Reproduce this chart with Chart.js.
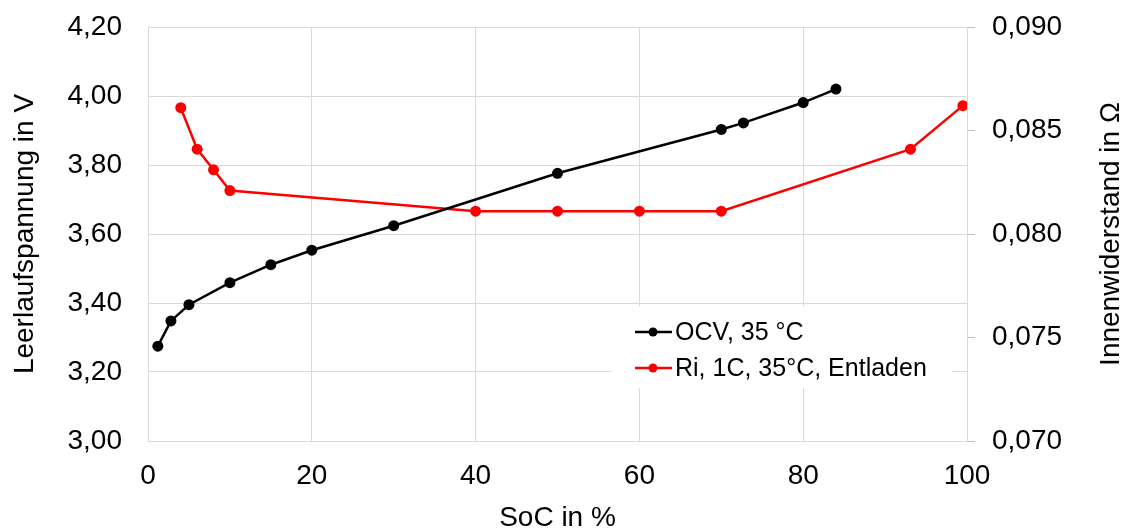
<!DOCTYPE html>
<html>
<head>
<meta charset="utf-8">
<script src="https://cdn.jsdelivr.net/npm/chart.js@4"></script>
<style>
  html, body { margin: 0; padding: 0; background: #fff; }
  #wrap { width: 1124px; height: 529px; }
</style>
</head>
<body>
<div id="wrap"><canvas id="chart" width="1124" height="529"></canvas></div>
<script>
// OCV curve (left axis)
const ocvSoc = [1.2, 2.8, 5, 10, 15, 20, 30, 50, 70, 72.7, 80, 84];
const ocvVoltage = [3.275, 3.348, 3.395, 3.459, 3.511, 3.553, 3.624, 3.776, 3.903, 3.922, 3.981, 4.020];

// internal resistance (right axis)
const riSoc = [4, 6, 8, 10, 40, 50, 60, 70, 93.1, 99.5];
const riOhm = [0.0861, 0.0841, 0.0831, 0.0821, 0.0811, 0.0811, 0.0811, 0.0811, 0.0841, 0.0862];

const seriesLabels = ['OCV, 35 °C', 'Ri, 1C, 35°C, Entladen'];
const xTitle = 'SoC in %';
const yTitle = 'Leerlaufspannung in V';
const y1Title = 'Innenwiderstand in Ω';

const FONT = "'Liberation Sans', Arial, sans-serif";
const gridColor = '#d9d9d9';

function toPoints(xs, ys) {
    return xs.map((x, i) => ({x: x, y: ys[i]}));
}

// fixed axis box size; drop the label padding so the plot can reach the top
function fixWidth(w) {
    return s => {
        s.width = w;
        s.paddingTop = 0;
        s.paddingBottom = 0;
    };
}

// legend box inside the plot + right axis title (reads bottom to top)
const extras = {
    id: 'extras',
    afterDraw(chart) {
        const ctx = chart.ctx;
        const area = chart.chartArea;
        ctx.save();

        ctx.fillStyle = '#fff';
        ctx.fillRect(612, 306, 340, 82);
        ctx.font = '25px ' + FONT;
        ctx.textBaseline = 'middle';
        ctx.textAlign = 'left';
        chart.data.datasets.forEach((ds, i) => {
            const y = 332 + i * 36;
            ctx.strokeStyle = ds.borderColor;
            ctx.lineWidth = 2.5;
            ctx.beginPath();
            ctx.moveTo(635, y);
            ctx.lineTo(672, y);
            ctx.stroke();
            ctx.fillStyle = ds.backgroundColor;
            ctx.beginPath();
            ctx.arc(653, y, 4.5, 0, Math.PI * 2);
            ctx.fill();
            ctx.fillStyle = '#000';
            ctx.fillText(ds.label, 675, y + 1);
        });

        ctx.font = '28px ' + FONT;
        ctx.fillStyle = '#000';
        ctx.textAlign = 'center';
        ctx.translate(1111, (area.top + area.bottom) / 2);
        ctx.rotate(-Math.PI / 2);
        ctx.fillText(y1Title, 0, 0);
        ctx.restore();
    }
};

const chart = new Chart(document.getElementById('chart').getContext('2d'), {
    type: 'scatter',
    data: {
        datasets: [{
            label: seriesLabels[0],
            data: toPoints(ocvSoc, ocvVoltage),
            yAxisID: 'y',
            showLine: true,
            borderColor: '#000000',
            backgroundColor: '#000000',
            borderWidth: 2.5,
            pointRadius: 5.5,
            pointBorderWidth: 0,
            pointHoverRadius: 5.5
        }, {
            label: seriesLabels[1],
            data: toPoints(riSoc, riOhm),
            yAxisID: 'y1',
            showLine: true,
            borderColor: '#ff0000',
            backgroundColor: '#ff0000',
            borderWidth: 2.5,
            pointRadius: 5.5,
            pointBorderWidth: 0,
            pointHoverRadius: 5.5
        }]
    },
    options: {
        responsive: false,
        animation: false,
        layout: { padding: { top: 27, left: 0, right: 0, bottom: 0 } },
        plugins: {
            legend: { display: false },
            tooltip: { enabled: false }
        },
        scales: {
            x: {
                type: 'linear',
                min: 0,
                max: 100,
                afterFit: s => { s.height = 88; },
                ticks: {
                    stepSize: 20,
                    padding: 18,
                    color: '#000',
                    font: { family: FONT, size: 28 }
                },
                grid: { color: gridColor, drawTicks: false },
                border: { color: gridColor },
                title: {
                    display: true,
                    text: xTitle,
                    color: '#000',
                    padding: 0,
                    font: { family: FONT, size: 28, lineHeight: 0.8 }
                }
            },
            y: {
                position: 'left',
                min: 3.0,
                max: 4.2,
                afterFit: fixWidth(148),
                ticks: {
                    stepSize: 0.2,
                    padding: 26,
                    color: '#000',
                    font: { family: FONT, size: 28 },
                    callback: v => v.toFixed(2).replace('.', ',')
                },
                grid: { color: gridColor, drawTicks: false },
                border: { color: gridColor },
                title: {
                    display: true,
                    text: yTitle,
                    color: '#000',
                    padding: { top: 11, bottom: 0 },
                    font: { family: FONT, size: 28, lineHeight: 1 }
                }
            },
            y1: {
                position: 'right',
                min: 0.070,
                max: 0.090,
                afterFit: fixWidth(157),
                ticks: {
                    stepSize: 0.005,
                    padding: 17,
                    color: '#000',
                    font: { family: FONT, size: 28 },
                    callback: v => v.toFixed(3).replace('.', ',')
                },
                grid: { drawOnChartArea: false, drawTicks: true, tickLength: 8, color: '#bfbfbf' },
                border: { color: gridColor }
            }
        }
    },
    plugins: [extras]
});
</script>
</body>
</html>
